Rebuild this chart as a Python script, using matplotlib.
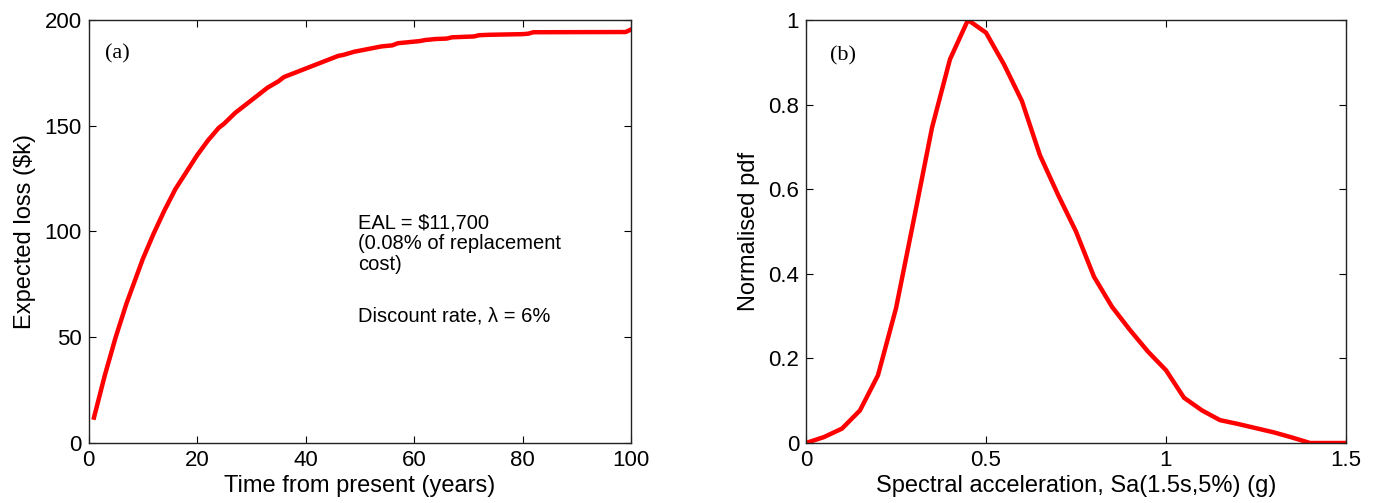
import matplotlib
matplotlib.use("Agg")
import matplotlib.pyplot as plt

# ---------------------------------------------------------------- data ----
# (a) discounted expected loss vs. time
years = [1, 2, 3, 4, 5, 6, 7, 8, 10, 12, 14, 16, 18, 20, 22, 24, 25, 27, 29,
         31, 33, 35, 36, 38, 40, 42, 44, 46, 47, 49, 50, 52, 54, 56, 57, 59,
         61, 62, 64, 66, 67, 69, 71, 72, 74, 80, 81, 82, 99, 100]
loss_k = [12, 22, 32, 41, 50, 58, 66, 73, 87, 99, 110, 120, 128, 136, 143,
          149, 151, 156, 160, 164, 168, 171, 173, 175, 177, 179, 181, 183,
          183.5, 185, 185.5, 186.5, 187.5, 188, 189, 189.5, 190, 190.5, 191,
          191.2, 191.8, 192, 192.2, 192.8, 193, 193.3, 193.5, 194.2, 194.3,
          195.5]

# (b) normalised pdf of spectral acceleration
sa_g = [0.0, 0.05, 0.10, 0.15, 0.20, 0.25, 0.30, 0.35, 0.40, 0.45, 0.50,
        0.55, 0.60, 0.65, 0.70, 0.75, 0.80, 0.85, 0.90, 0.95, 1.00, 1.05,
        1.10, 1.15, 1.20, 1.25, 1.30, 1.35, 1.40, 1.45, 1.50]
pdf = [0.0, 0.014, 0.034, 0.077, 0.16, 0.318, 0.53, 0.745, 0.907, 1.0, 0.97,
       0.895, 0.808, 0.68, 0.587, 0.50, 0.393, 0.322, 0.267, 0.216, 0.172,
       0.107, 0.077, 0.054, 0.045, 0.035, 0.025, 0.013, 0.0, 0.0, 0.0]

eal_note = "EAL = $11,700\n(0.08% of replacement\ncost)"
rate_note = "Discount rate, \u03bb = 6%"

# ---------------------------------------------------------------- style ---
plt.rcParams['font.family'] = ['Liberation Sans', 'DejaVu Sans']
RED = '#ff0000'
TICK_FS = 16
LABEL_FS = 17
NOTE_FS = 14.5
PANEL_FS = 16
LW = 3.2


def matlab_axes(ax):
    # MATLAB look: inward ticks on all four sides
    ax.tick_params(direction='in', top=True, right=True, length=5,
                   width=0.8, labelsize=TICK_FS, pad=5)
    for sp in ax.spines.values():
        sp.set_linewidth(1.0)
        sp.set_color('#222222')


fig = plt.figure(figsize=(13.77, 5.03), dpi=100)

# ---- (a)
ax1 = fig.add_axes([0.0643, 0.1193, 0.394, 0.841])
ax1.plot(years, loss_k, color=RED, lw=LW, solid_joinstyle='round')
ax1.set_xlim(0, 100)
ax1.set_ylim(0, 200)
ax1.set_xticks([0, 20, 40, 60, 80, 100])
ax1.set_yticks([0, 50, 100, 150, 200])
ax1.set_xlabel('Time from present (years)', fontsize=LABEL_FS, labelpad=3)
ax1.set_ylabel('Expected loss ($k)', fontsize=LABEL_FS, labelpad=6)
matlab_axes(ax1)
ax1.text(3.0, 184, '(a)', family='Liberation Serif', fontsize=PANEL_FS,
         va='center', ha='left')
ax1.text(49.6, 108.5, eal_note, fontsize=NOTE_FS, va='top', ha='left',
         linespacing=1.1)
ax1.text(49.6, 60, rate_note, fontsize=NOTE_FS, va='center', ha='left')

# ---- (b)
ax2 = fig.add_axes([0.5853, 0.1193, 0.3922, 0.841])
ax2.plot(sa_g, pdf, color=RED, lw=LW, solid_joinstyle='miter')
ax2.set_xlim(0, 1.5)
ax2.set_ylim(0, 1)
ax2.set_xticks([0, 0.5, 1, 1.5])
ax2.set_xticklabels(['0', '0.5', '1', '1.5'])
ax2.set_yticks([0, 0.2, 0.4, 0.6, 0.8, 1])
ax2.set_yticklabels(['0', '0.2', '0.4', '0.6', '0.8', '1'])
ax2.set_xlabel('Spectral acceleration, Sa(1.5s,5%) (g)', fontsize=LABEL_FS,
               labelpad=3)
ax2.set_ylabel('Normalised pdf', fontsize=LABEL_FS, labelpad=6)
matlab_axes(ax2)
ax2.text(0.0667, 0.915, '(b)', family='Liberation Serif', fontsize=PANEL_FS,
         va='center', ha='left')

fig.savefig('out.png', dpi=100)
